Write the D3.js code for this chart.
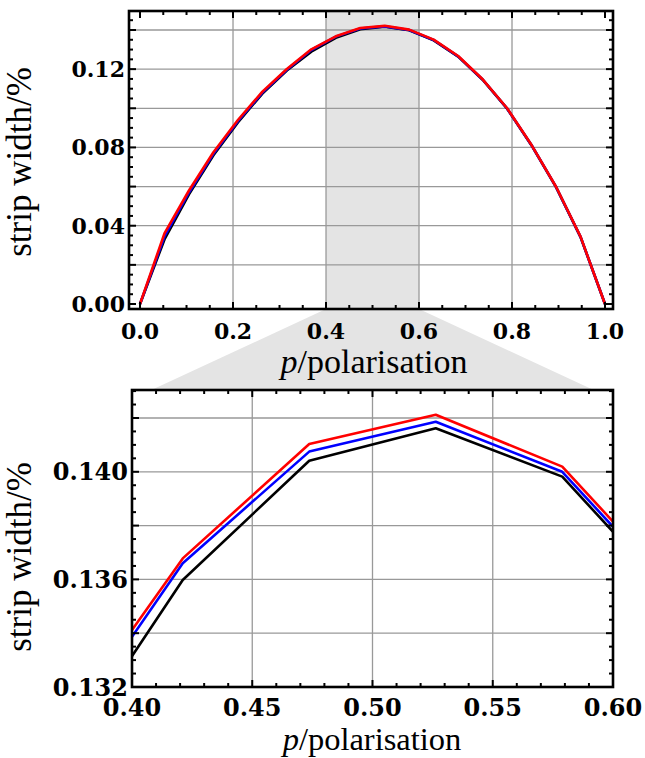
<!DOCTYPE html>
<html>
<head>
<meta charset="utf-8">
<script src="https://cdn.jsdelivr.net/npm/d3@7"></script>
<style>
  body { margin: 0; background: #fff; }
  svg { display: block; }
</style>
</head>
<body>
<svg id="chart" width="645" height="758"></svg>
<script>
// polarisation sample points (k/19)
const pValues = [0, 0.0526, 0.1053, 0.1579, 0.2105, 0.2632, 0.3158, 0.3684, 0.4211, 0.4737,
                 0.5263, 0.5789, 0.6316, 0.6842, 0.7368, 0.7895, 0.8421, 0.8947, 0.9474, 1];

// strip width (%) for the three curves
const blackSeries = [0, 0.0330, 0.0560, 0.0760, 0.0928, 0.1075, 0.1193, 0.12891, 0.13598, 0.14041,
                     0.14162, 0.13982, 0.13470, 0.1264, 0.1146, 0.0998, 0.0810, 0.0597, 0.0342, 0];
const blueSeries  = [0, 0.0345, 0.0570, 0.0768, 0.0934, 0.1080, 0.1197, 0.12978, 0.13660, 0.14075,
                     0.14186, 0.14000, 0.13490, 0.1265, 0.1147, 0.0999, 0.0811, 0.0598, 0.0343, 0];
const redSeries   = [0, 0.0361, 0.0580, 0.0775, 0.0940, 0.1085, 0.1201, 0.13013, 0.13678, 0.14103,
                     0.14212, 0.14019, 0.13509, 0.1267, 0.1148, 0.1000, 0.0812, 0.0599, 0.0344, 0];

// tick labels
const topXTicks = [0, 0.2, 0.4, 0.6, 0.8, 1.0];
const topYTicks = [0, 0.04, 0.08, 0.12];
const topXGrid = [0.2, 0.4, 0.6, 0.8];
const topYGrid = [0.02, 0.04, 0.06, 0.08, 0.10, 0.12, 0.14];

const botXTicks = [0.40, 0.45, 0.50, 0.55, 0.60];
const botYTicks = [0.132, 0.136, 0.140];
const botXGrid = [0.45, 0.50, 0.55];
const botYGrid = [0.134, 0.136, 0.138, 0.140, 0.142];

const zoomRange = [0.4, 0.6];

const series = [
  { values: blackSeries, color: '#000000' },
  { values: blueSeries,  color: '#0000ff' },
  { values: redSeries,   color: '#ff0000' }
];

const svg = d3.select('#chart');
const GRID = '#999999';
const SHADE = '#e4e4e4';

// panel boxes
const topBox = { left: 129, right: 613, top: 11, bottom: 309 };
const botBox = { left: 132, right: 613, top: 390, bottom: 687 };

const xTop = d3.scaleLinear().domain([-0.0237, 1.0172]).range([topBox.left, topBox.right]);
const yTop = d3.scaleLinear().domain([-0.00255, 0.1497]).range([topBox.bottom, topBox.top]);
const xBot = d3.scaleLinear().domain([0.4, 0.6]).range([botBox.left, botBox.right]);
const yBot = d3.scaleLinear().domain([0.132, 0.14304]).range([botBox.bottom, botBox.top]);

function range(a, b, step) {
  const out = [];
  const n = Math.round((b - a) / step);
  for (let i = 0; i <= n; i++) out.push(a + i * step);
  return out;
}

function drawPanel(id, box, x, y, opt) {
  const g = svg.append('g').attr('class', id);

  g.append('rect')
    .attr('x', box.left).attr('y', box.top)
    .attr('width', box.right - box.left).attr('height', box.bottom - box.top)
    .attr('fill', '#fff');

  if (opt.shade) {
    g.append('rect')
      .attr('x', x(opt.shade[0])).attr('y', box.top)
      .attr('width', x(opt.shade[1]) - x(opt.shade[0]))
      .attr('height', box.bottom - box.top)
      .attr('fill', SHADE);
  }

  // gridlines
  g.selectAll('.vgrid').data(opt.xGrid).join('line')
    .attr('x1', d => x(d)).attr('x2', d => x(d))
    .attr('y1', box.top).attr('y2', box.bottom)
    .attr('stroke', GRID).attr('stroke-width', 1.3);
  g.selectAll('.hgrid').data(opt.yGrid).join('line')
    .attr('x1', box.left).attr('x2', box.right)
    .attr('y1', d => y(d)).attr('y2', d => y(d))
    .attr('stroke', GRID).attr('stroke-width', 1.3);

  // lines, clipped to frame
  const clipId = id + '-clip';
  svg.append('clipPath').attr('id', clipId).append('rect')
    .attr('x', box.left).attr('y', box.top)
    .attr('width', box.right - box.left).attr('height', box.bottom - box.top);

  const line = d3.line().x((d, i) => x(pValues[i])).y(d => y(d));
  g.append('g').attr('clip-path', `url(#${clipId})`)
    .selectAll('path').data(series).join('path')
    .attr('d', s => line(s.values))
    .attr('fill', 'none')
    .attr('stroke', s => s.color)
    .attr('stroke-width', opt.lineWidth)
    .attr('stroke-linejoin', 'round');

  // inside ticks on all four sides
  const xMajor = opt.xMajor, yMajor = opt.yMajor;
  const isMajor = (v, list) => list.some(m => Math.abs(m - v) < 1e-9);
  const ticks = g.append('g').attr('stroke', '#000').attr('stroke-width', 2);
  opt.xMinor.forEach(v => {
    const len = isMajor(v, xMajor) ? 7 : 4;
    ticks.append('line').attr('x1', x(v)).attr('x2', x(v)).attr('y1', box.bottom).attr('y2', box.bottom - len);
    ticks.append('line').attr('x1', x(v)).attr('x2', x(v)).attr('y1', box.top).attr('y2', box.top + len);
  });
  opt.yMinor.forEach(v => {
    const len = isMajor(v, yMajor) ? 7 : 4;
    ticks.append('line').attr('y1', y(v)).attr('y2', y(v)).attr('x1', box.left).attr('x2', box.left + len);
    ticks.append('line').attr('y1', y(v)).attr('y2', y(v)).attr('x1', box.right).attr('x2', box.right - len);
  });

  // frame
  g.append('rect')
    .attr('x', box.left).attr('y', box.top)
    .attr('width', box.right - box.left).attr('height', box.bottom - box.top)
    .attr('fill', 'none').attr('stroke', '#000').attr('stroke-width', 2.6);

  // tick labels
  g.selectAll('.xlab').data(opt.xTicks).join('text')
    .attr('x', d => x(d)).attr('y', box.bottom + opt.xLabelGap)
    .attr('text-anchor', 'middle')
    .style('font-family', 'DejaVu Serif').style('font-weight', 'bold')
    .style('font-size', opt.tickFont + 'px')
    .text(d => d3.format(opt.xFmt)(d));
  g.selectAll('.ylab').data(opt.yTicks).join('text')
    .attr('x', box.left - 4).attr('y', d => y(d)).attr('dy', '0.36em')
    .attr('text-anchor', 'end')
    .style('font-family', 'DejaVu Serif').style('font-weight', 'bold')
    .style('font-size', opt.tickFont + 'px')
    .text(d => d3.format(opt.yFmt)(d));

  // axis titles
  const xt = g.append('text')
    .attr('x', opt.xTitle[0]).attr('y', opt.xTitle[1])
    .attr('text-anchor', 'middle')
    .style('font-family', 'Liberation Serif').style('font-size', opt.xTitleFont + 'px');
  xt.append('tspan').style('font-style', 'italic').text('p');
  xt.append('tspan').text('/polarisation');

  g.append('text')
    .attr('transform', `translate(${opt.yTitle[0]},${opt.yTitle[1]}) rotate(-90)`)
    .attr('text-anchor', 'middle')
    .style('font-family', 'Liberation Serif').style('font-size', '35px')
    .text('strip width/%');
}

// zoom connector (drawn first so the lower panel covers its base)
const connector = [
  [xTop(zoomRange[0]), topBox.bottom],
  [xTop(zoomRange[1]), topBox.bottom],
  [botBox.right, botBox.top + 9],
  [botBox.left, botBox.top + 9]
];
svg.append('polygon')
  .attr('points', connector.map(p => p.join(',')).join(' '))
  .attr('fill', SHADE);

drawPanel('top', topBox, xTop, yTop, {
  shade: zoomRange,
  xGrid: topXGrid, yGrid: topYGrid,
  xTicks: topXTicks, yTicks: topYTicks,
  xMinor: range(0, 1, 0.05), yMinor: range(0, 0.145, 0.005),
  xMajor: topXTicks, yMajor: [0, 0.02, 0.04, 0.06, 0.08, 0.10, 0.12, 0.14],
  xFmt: '.1f', yFmt: '.2f',
  tickFont: 22, xLabelGap: 30, lineWidth: 2.6,
  xTitle: [374, 373], xTitleFont: 34, yTitle: [31, 162]
});

drawPanel('bottom', botBox, xBot, yBot, {
  shade: null,
  xGrid: botXGrid, yGrid: botYGrid,
  xTicks: botXTicks, yTicks: botYTicks,
  xMinor: range(0.4, 0.6, 0.01), yMinor: range(0.132, 0.143, 0.0005),
  xMajor: botXTicks, yMajor: [0.132, 0.134, 0.136, 0.138, 0.140, 0.142],
  xFmt: '.2f', yFmt: '.3f',
  tickFont: 24, xLabelGap: 29, lineWidth: 2.6,
  xTitle: [372, 750], xTitleFont: 32.5, yTitle: [31, 557]
});
</script>
</body>
</html>
